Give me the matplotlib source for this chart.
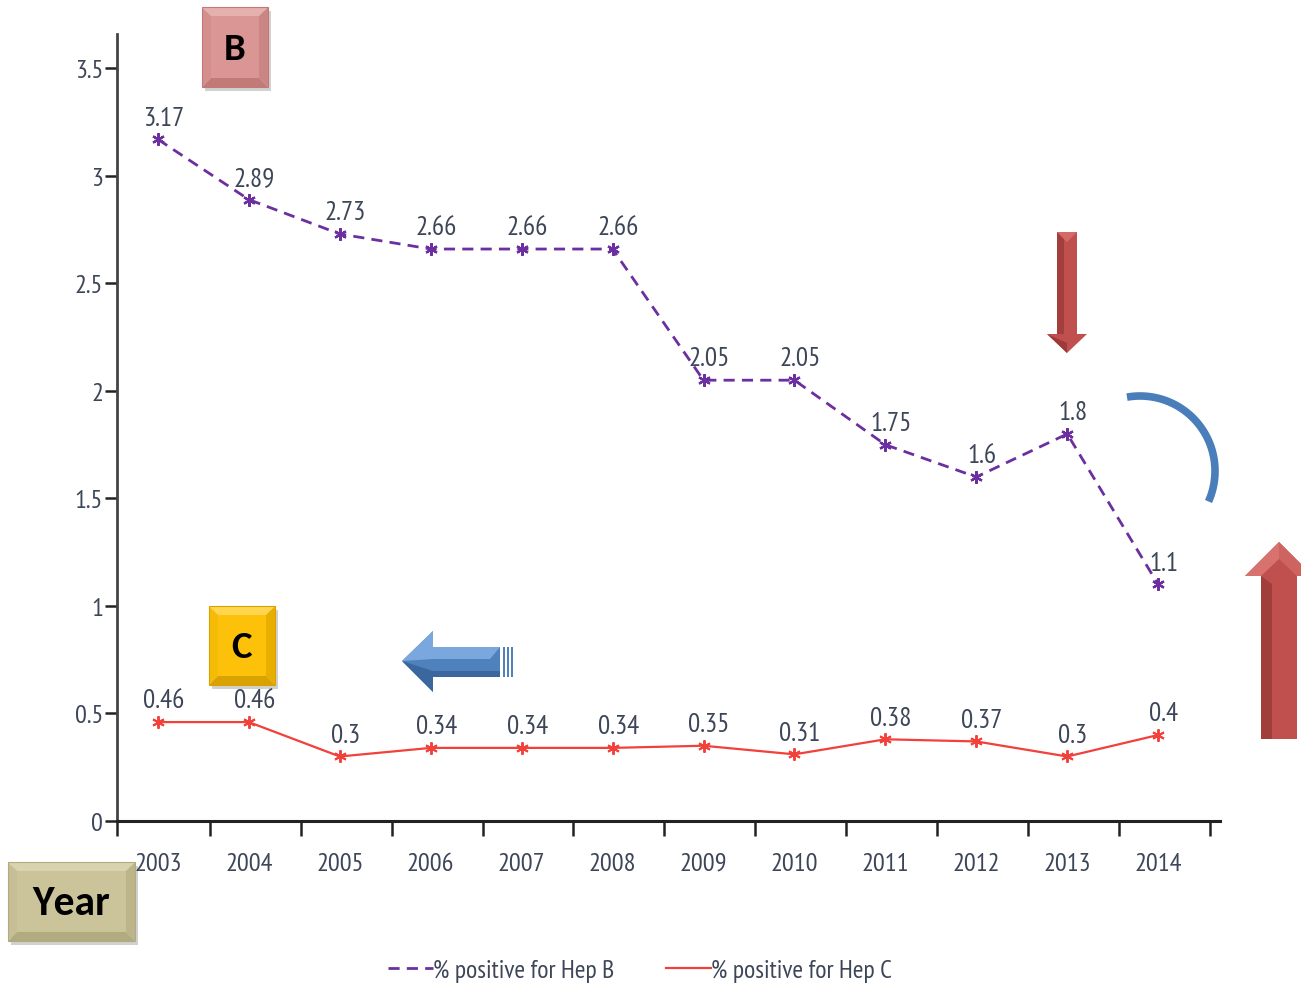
import numpy as np
import matplotlib
matplotlib.use("Agg")
import matplotlib.pyplot as plt
from matplotlib import font_manager
from matplotlib.patches import Polygon, Rectangle
from matplotlib.ticker import FixedLocator

# ---- data ----
years = ["2003", "2004", "2005", "2006", "2007", "2008",
         "2009", "2010", "2011", "2012", "2013", "2014"]
hep_b = [3.17, 2.89, 2.73, 2.66, 2.66, 2.66, 2.05, 2.05, 1.75, 1.6, 1.8, 1.1]
hep_c = [0.46, 0.46, 0.3, 0.34, 0.34, 0.34, 0.35, 0.31, 0.38, 0.37, 0.3, 0.4]
hep_b_text = ["3.17", "2.89", "2.73", "2.66", "2.66", "2.66",
              "2.05", "2.05", "1.75", "1.6", "1.8", "1.1"]
hep_c_text = ["0.46", "0.46", "0.3", "0.34", "0.34", "0.34",
              "0.35", "0.31", "0.38", "0.37", "0.3", "0.4"]
y_ticks = [0, 0.5, 1, 1.5, 2, 2.5, 3, 3.5]
y_tick_labels = ["0", "0.5", "1", "1.5", "2", "2.5", "3", "3.5"]
legend_labels = ["% positive for Hep B", "% positive for Hep C"]

# ---- fonts ----
available = {f.name for f in font_manager.fontManager.ttflist}


def pick(candidates):
    for c in candidates:
        if c in available:
            return c
    return "DejaVu Sans"


narrow = pick(["PT Sans Narrow", "Roboto Condensed", "Archivo Narrow",
               "Fira Sans Condensed", "Liberation Sans Narrow"])
bold_font = pick(["Carlito", "Lato", "Open Sans"])

TEXT = "#3d4658"
PURPLE = "#6b2fa0"
RED = "#f2403a"

W, H = 1301, 987
fig = plt.figure(figsize=(W / 100, H / 100), dpi=100)

# main axes (pixel layout: x 117..1220, y 35..822)
ax = fig.add_axes([117 / W, 1 - 822 / H, (1220 - 117) / W, (822 - 35) / H])
x = np.arange(len(years))
ax.set_xlim(-0.45, 11.68)
ax.set_ylim(0, 3.66)

ax.plot(x, hep_b, color=PURPLE, lw=2.0, dashes=(4, 2.6),
        marker=(6, 2, 0), ms=9, mew=1.6, label=legend_labels[0], zorder=3)
ax.plot(x, hep_c, color=RED, lw=1.6,
        marker=(6, 2, 0), ms=9, mew=1.4, label=legend_labels[1], zorder=3)

for xi, v, t in zip(x, hep_b, hep_b_text):
    ax.annotate(t, (xi, v), xytext=(4, 7), textcoords="offset points",
                ha="center", va="bottom", fontsize=19.5, color=TEXT,
                family=narrow)
for xi, v, t in zip(x, hep_c, hep_c_text):
    ax.annotate(t, (xi, v), xytext=(4, 7), textcoords="offset points",
                ha="center", va="bottom", fontsize=19.5, color=TEXT,
                family=narrow)

for s in ("top", "right"):
    ax.spines[s].set_visible(False)
ax.spines["left"].set_color("#444444")
ax.spines["left"].set_linewidth(2.0)
ax.spines["bottom"].set_color("#222222")
ax.spines["bottom"].set_linewidth(2.2)

ax.set_yticks(y_ticks)
ax.set_yticklabels(y_tick_labels)
ax.tick_params(axis="y", direction="out", length=9, width=1.8, color="#222222",
               pad=1, labelsize=19, labelcolor=TEXT)
ax.set_xticks(x)
ax.set_xticklabels(years)
ax.tick_params(axis="x", which="major", length=0, pad=22,
               labelsize=19, labelcolor=TEXT)
ax.xaxis.set_minor_locator(FixedLocator([-0.45] + list(x + 0.57)))
ax.tick_params(axis="x", which="minor", direction="out", length=11,
               width=1.8, color="#222222")
for lab in ax.get_xticklabels() + ax.get_yticklabels():
    lab.set_family(narrow)

leg = fig.legend(loc="center", bbox_to_anchor=(640 / W, 1 - 971 / H), ncol=2,
                 frameon=False, handlelength=1.75, handletextpad=0.0,
                 columnspacing=2.0, prop={"family": narrow, "size": 18.5})
for t in leg.get_texts():
    t.set_color(TEXT)
for h in leg.legend_handles:
    h.set_marker("")

# ---- decorative overlay in pixel coordinates ----
ov = fig.add_axes([0, 0, 1, 1], zorder=10)
ov.set_xlim(0, W)
ov.set_ylim(H, 0)
ov.axis("off")
ov.patch.set_alpha(0)


def bevel_box(x0, y0, x1, y1, face, top, left, right, bottom, label, size, b=11):
    ov.add_patch(Rectangle((x0 + 3, y0 + 4), x1 - x0, y1 - y0,
                           color="#000000", alpha=0.18, lw=0))
    oTL, oTR, oBR, oBL = (x0, y0), (x1, y0), (x1, y1), (x0, y1)
    iTL, iTR, iBR, iBL = (x0 + b, y0 + b), (x1 - b, y0 + b), (x1 - b, y1 - b), (x0 + b, y1 - b)
    ov.add_patch(Polygon([oTL, oTR, iTR, iTL], color=top, lw=0))
    ov.add_patch(Polygon([oTL, iTL, iBL, oBL], color=left, lw=0))
    ov.add_patch(Polygon([oTR, oBR, iBR, iTR], color=right, lw=0))
    ov.add_patch(Polygon([oBL, iBL, iBR, oBR], color=bottom, lw=0))
    ov.add_patch(Polygon([iTL, iTR, iBR, iBL], color=face, lw=0))
    ov.add_patch(Rectangle((x0, y0), x1 - x0, y1 - y0, fill=False,
                           ec=bottom, lw=0.8))
    ov.text((x0 + x1) / 2, (y0 + y1) / 2 + 1, label, ha="center", va="center",
            fontsize=size, fontweight="bold", family=bold_font, color="black")


bevel_box(202, 8, 268, 88, "#d99694", "#e6b0af", "#d38f8d", "#cb8583", "#c27a78", "B", 28, b=9)
bevel_box(209, 607, 275, 686, "#fdc109", "#ffd64d", "#f5bb05", "#e8ae00", "#d9a200", "C", 28, b=9)
bevel_box(8, 863, 135, 942, "#cbc39a", "#dad3b0", "#c6be94", "#bdb58a", "#b2ab80", "Year", 30, b=9)

# red down arrow
ov.add_patch(Polygon([(1057, 233), (1077, 233), (1077, 335), (1087, 335),
                      (1067, 354), (1047, 335), (1057, 335)],
                     color="#c0504d", lw=0))
ov.add_patch(Polygon([(1057, 233), (1064, 240), (1064, 335), (1057, 335)],
                     color="#a23f3c", lw=0))
ov.add_patch(Polygon([(1057, 233), (1077, 233), (1067, 243)],
                     color="#d46a67", lw=0))
ov.add_patch(Polygon([(1047, 335), (1067, 354), (1067, 344)],
                     color="#9e3b38", lw=0))

# red up arrow (runs past the right edge)
ov.add_patch(Polygon([(1279, 543), (1313, 577), (1297, 577), (1297, 740),
                      (1261, 740), (1261, 577), (1245, 577)],
                     color="#c0504d", lw=0))
ov.add_patch(Polygon([(1261, 577), (1272, 585), (1272, 740), (1261, 740)],
                     color="#a03e3b", lw=0))
ov.add_patch(Polygon([(1279, 543), (1245, 577), (1261, 577), (1279, 560)],
                     color="#d8726f", lw=0))
ov.add_patch(Polygon([(1279, 543), (1313, 577), (1297, 577), (1279, 560)],
                     color="#cf6360", lw=0))

# blue left arrow
ov.add_patch(Polygon([(402, 662), (433, 632), (433, 648), (500, 648),
                      (500, 678), (433, 678), (433, 693)],
                     color="#4f81bd", lw=0))
ov.add_patch(Polygon([(402, 662), (433, 632), (433, 648), (500, 648),
                      (490, 660), (433, 660)],
                     color="#7aa8de", lw=0))
ov.add_patch(Polygon([(402, 662), (433, 693), (433, 678), (500, 678),
                      (500, 672), (433, 672)],
                     color="#3b679e", lw=0))
for sx in (503, 507, 511):
    ov.add_patch(Rectangle((sx, 648), 2, 30, color="#4f81bd", lw=0))

# blue arc
t = np.radians(np.linspace(-100, 24, 80))
cx, cy, r = 1140, 472, 75
ov.plot(cx + r * np.cos(t), cy + r * np.sin(t), color="#4a7ebb", lw=5.5,
        solid_capstyle="butt")

fig.savefig("out.png", dpi=100)
